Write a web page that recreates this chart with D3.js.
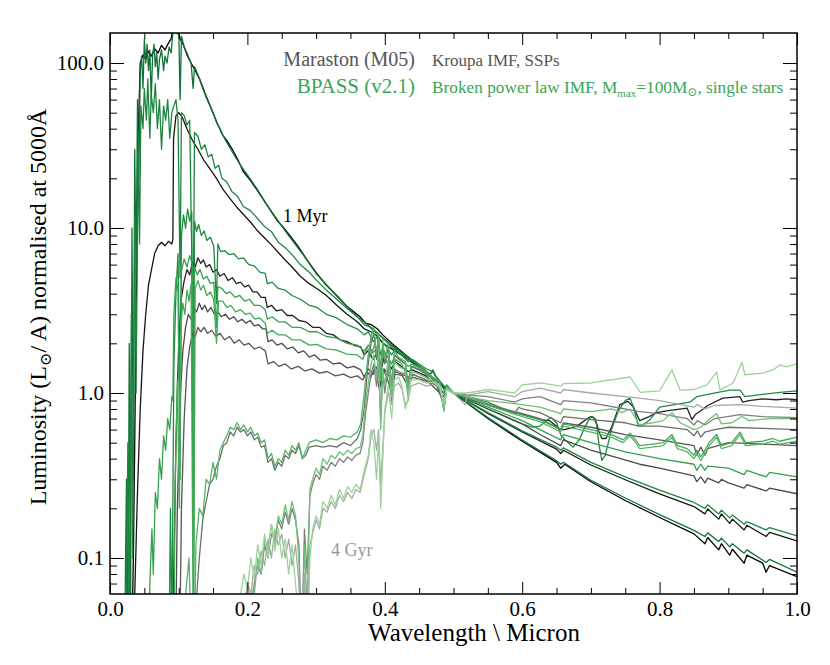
<!DOCTYPE html>
<html><head><meta charset="utf-8">
<script src="https://cdn.jsdelivr.net/npm/d3@7"></script>
<style>body{margin:0;background:#fff}svg{display:block}svg text{font-family:"Liberation Serif",Tinos,"Times New Roman",Times,"DejaVu Serif","Noto Serif",serif !important}</style>
</head><body><svg id="c" width="830" height="665"></svg>
<script>
// ---------------- DATA ----------------
const ages = ["1 Myr","3 Myr","10 Myr","30 Myr","100 Myr","500 Myr","1 Gyr","4 Gyr"];
const marastonColors = ["#000000","#151515","#222222","#4a4a4a","#555555","#6e6e6e","#808080","#a8a8a8"];
const bpassColors = ["#127238","#1e8540","#1f8b40","#36a050","#45aa58","#55b565","#6cc276","#9ad597"];
const xDomain = [0, 1.0];
const yDomain = [0.0605, 152];
const xMajorTicks = [0.0, 0.2, 0.4, 0.6, 0.8, 1.0];
const xMinorTicks = [0.05,0.1,0.15,0.25,0.3,0.35,0.45,0.5,0.55,0.65,0.7,0.75,0.85,0.9,0.95];
const yMajorTicks = [0.1, 1, 10, 100];
const yMinorTicks = [0.07,0.08,0.09,0.2,0.3,0.4,0.5,0.6,0.7,0.8,0.9,2,3,4,5,6,7,8,9,20,30,40,50,60,70,80,90];

const maraston1Myr = [[0.030,0.01],[0.034,0.1],[0.036,0.5],[0.038,3],[0.040,15],[0.042,50],[0.044,100],[0.048,112],[0.052,105],[0.056,118],[0.060,110],[0.065,122],[0.070,115],[0.075,128],[0.080,120],[0.085,132],[0.089,140],[0.092,170],[0.098,175],[0.102,140],[0.107,128],[0.112,112],[0.118,100],[0.124,90],[0.131,79],[0.138,66],[0.145,56],[0.150,50],[0.156,43],[0.160,40],[0.164,36.6],[0.170,34],[0.178,30],[0.186,26],[0.194,22],[0.204,19.5],[0.214,17],[0.225,14.5],[0.235,12.5],[0.244,11],[0.252,10.1],[0.262,9],[0.275,7.6],[0.288,6.3],[0.301,5.3],[0.315,4.5],[0.330,3.9],[0.345,3.35],[0.364,2.9],[0.372,2.65],[0.380,2.6],[0.389,2.45],[0.397,2.25],[0.410,2.0],[0.420,1.85],[0.434,1.65],[0.450,1.45],[0.466,1.28],[0.480,1.15],[0.486,1.08],[0.490,1.08],[0.500,1.0],[0.55,0.70],[0.60,0.51],[0.65,0.38],[0.656,0.35],[0.662,0.37],[0.70,0.29],[0.75,0.223],[0.80,0.176],[0.85,0.14],[0.866,0.122],[0.870,0.133],[0.886,0.112],[0.890,0.122],[0.902,0.104],[0.906,0.113],[0.923,0.093],[0.927,0.104],[0.950,0.093],[0.955,0.082],[0.960,0.09],[1.0,0.077]];
const bpass1Myr = [[0.020,0.01],[0.024,0.3],[0.026,0.02],[0.028,2],[0.030,0.05],[0.032,10],[0.034,0.3],[0.036,30],[0.038,5],[0.040,60],[0.042,20],[0.044,90],[0.046,110],[0.048,70],[0.050,140],[0.052,100],[0.054,130],[0.056,90],[0.058,120],[0.060,60],[0.062,110],[0.064,130],[0.066,95],[0.068,115],[0.070,80],[0.072,105],[0.075,120],[0.078,90],[0.080,110],[0.083,100],[0.086,125],[0.089,115],[0.092,160],[0.095,170],[0.098,150],[0.100,165],[0.102,60],[0.104,145],[0.108,125],[0.112,115],[0.118,100],[0.121,70],[0.123,95],[0.128,85],[0.134,72],[0.140,62],[0.148,52],[0.155,44],[0.162,38],[0.170,33],[0.180,28],[0.190,24],[0.200,21],[0.215,17],[0.230,13.5],[0.245,11],[0.260,9],[0.280,7],[0.300,5.3],[0.320,4.3],[0.340,3.5],[0.360,2.9],[0.375,2.6],[0.385,2.35],[0.395,2.2],[0.410,1.95],[0.434,1.65],[0.450,1.45],[0.466,1.3],[0.470,1.38],[0.474,1.27],[0.486,1.1],[0.500,1.0],[0.55,0.709],[0.60,0.518],[0.65,0.388],[0.656,0.37],[0.66,0.38],[0.70,0.296],[0.75,0.231],[0.80,0.183],[0.85,0.147],[0.866,0.135],[0.87,0.142],[0.886,0.126],[0.89,0.132],[0.902,0.117],[0.906,0.122],[0.923,0.107],[0.927,0.112],[0.955,0.094],[0.96,0.098],[1.0,0.082]];

const maraston3Myr = [[0.034,0.01],[0.036,0.06],[0.040,0.25],[0.044,0.8],[0.048,1.8],[0.052,3],[0.056,4.5],[0.060,5.5],[0.065,7],[0.070,7.8],[0.075,8.2],[0.080,7.8],[0.085,8.3],[0.090,8],[0.0915,8.5],[0.0925,35],[0.096,48],[0.100,50],[0.105,47],[0.112,40],[0.120,34],[0.128,30],[0.136,26],[0.145,23],[0.155,20],[0.165,17],[0.175,15],[0.185,13.3],[0.195,12],[0.205,10.8],[0.214,9.7],[0.225,8.7],[0.235,7.9],[0.245,7.1],[0.255,6.4],[0.265,5.8],[0.277,5.1],[0.290,4.6],[0.301,4.3],[0.315,3.9],[0.330,3.4],[0.345,3.0],[0.360,2.7],[0.370,2.45],[0.380,2.35],[0.390,2.2],[0.397,2.0],[0.41,1.85],[0.434,1.6],[0.45,1.42],[0.466,1.27],[0.486,1.1],[0.5,1.0],[0.55,0.753],[0.60,0.58],[0.65,0.457],[0.656,0.43],[0.66,0.45],[0.70,0.366],[0.75,0.298],[0.80,0.245],[0.85,0.205],[0.866,0.185],[0.87,0.198],[0.886,0.172],[0.89,0.185],[0.902,0.162],[0.906,0.172],[0.923,0.148],[0.927,0.158],[0.955,0.135],[0.96,0.143],[1.0,0.127]];
const bpass3Myr = [[0.022,0.01],[0.026,0.5],[0.028,0.03],[0.031,3],[0.033,0.1],[0.036,12],[0.038,1],[0.041,30],[0.043,8],[0.045,55],[0.048,40],[0.050,70],[0.053,45],[0.055,80],[0.058,35],[0.060,65],[0.063,50],[0.066,75],[0.069,40],[0.072,60],[0.075,30],[0.078,55],[0.081,45],[0.084,60],[0.087,35],[0.090,50],[0.093,55],[0.096,60],[0.099,45],[0.102,5],[0.104,50],[0.108,48],[0.112,42],[0.116,45],[0.121,2],[0.123,38],[0.128,36],[0.133,30],[0.138,32],[0.143,27],[0.148,28],[0.153,23],[0.158,24],[0.163,20],[0.170,19],[0.178,16.5],[0.186,15.5],[0.194,13.5],[0.204,12.8],[0.214,11.5],[0.225,10.2],[0.235,9.5],[0.245,8.2],[0.255,7.6],[0.265,6.9],[0.277,6.0],[0.290,5.4],[0.301,4.8],[0.315,4.2],[0.330,3.7],[0.345,3.25],[0.360,2.9],[0.370,2.6],[0.380,2.5],[0.390,2.3],[0.397,2.15],[0.41,1.9],[0.434,1.62],[0.45,1.45],[0.466,1.3],[0.470,1.35],[0.474,1.26],[0.486,1.1],[0.5,1.0],[0.55,0.76],[0.60,0.59],[0.65,0.47],[0.656,0.45],[0.66,0.465],[0.70,0.38],[0.75,0.31],[0.80,0.258],[0.85,0.217],[0.866,0.2],[0.87,0.21],[0.886,0.185],[0.89,0.195],[0.902,0.175],[0.906,0.182],[0.923,0.16],[0.927,0.166],[0.955,0.148],[0.96,0.153],[1.0,0.136]];

const maraston10Myr = [[0.088,0.01],[0.092,0.05],[0.096,0.5],[0.100,2],[0.104,3.8],[0.108,4.8],[0.112,5.6],[0.116,5.2],[0.120,6.2],[0.124,5.8],[0.128,6.6],[0.132,6.1],[0.136,6.4],[0.140,5.8],[0.145,6.0],[0.150,5.4],[0.155,5.6],[0.160,5.1],[0.166,5.3],[0.172,4.8],[0.178,5.0],[0.184,4.6],[0.190,4.7],[0.196,4.4],[0.202,4.5],[0.208,4.1],[0.214,4.1],[0.220,3.8],[0.226,3.8],[0.229,3.3],[0.235,3.4],[0.242,3.15],[0.250,3.2],[0.258,2.95],[0.266,2.95],[0.275,2.75],[0.285,2.7],[0.295,2.5],[0.305,2.5],[0.315,2.3],[0.325,2.25],[0.335,2.1],[0.345,2.05],[0.355,1.95],[0.365,1.9],[0.370,1.7],[0.375,1.8],[0.383,1.6],[0.389,1.75],[0.394,1.35],[0.399,1.65],[0.41,1.4],[0.415,1.55],[0.434,1.35],[0.44,1.38],[0.46,1.27],[0.486,1.0],[0.49,1.08],[0.5,1.0],[0.52,0.92],[0.55,0.85],[0.58,0.78],[0.60,0.74],[0.626,0.69],[0.64,0.68],[0.656,0.6],[0.662,0.6],[0.68,0.63],[0.695,0.7],[0.70,0.72],[0.706,0.7],[0.712,0.58],[0.716,0.53],[0.722,0.53],[0.73,0.62],[0.742,0.85],[0.754,0.89],[0.762,0.82],[0.771,0.68],[0.785,0.72],[0.796,0.76],[0.81,0.78],[0.84,0.81],[0.847,0.69],[0.852,0.74],[0.86,0.78],[0.87,0.84],[0.892,0.93],[0.917,0.95],[0.921,0.88],[0.93,0.9],[0.95,0.92],[0.97,0.91],[0.985,0.92],[1.0,0.91]];
const bpass10Myr = [[0.085,0.01],[0.088,0.2],[0.090,0.03],[0.093,1.5],[0.096,4],[0.099,7],[0.102,0.8],[0.104,9],[0.107,12],[0.110,10],[0.113,13],[0.116,11],[0.119,12.5],[0.121,0.1],[0.123,11],[0.126,9.5],[0.129,10.5],[0.133,9],[0.137,9.6],[0.141,8.4],[0.146,8.8],[0.151,7.8],[0.155,3.5],[0.157,8.0],[0.161,7.2],[0.167,7.3],[0.173,6.9],[0.180,7.0],[0.187,6.5],[0.194,6.6],[0.202,6.0],[0.210,5.9],[0.218,5.4],[0.226,5.3],[0.229,4.6],[0.236,4.7],[0.245,4.3],[0.255,4.2],[0.265,3.9],[0.277,3.7],[0.290,3.4],[0.301,3.3],[0.315,3.0],[0.330,2.85],[0.345,2.6],[0.360,2.45],[0.370,2.25],[0.376,2.35],[0.383,2.05],[0.389,2.2],[0.394,1.7],[0.399,2.0],[0.41,1.7],[0.415,1.85],[0.434,1.55],[0.44,1.6],[0.46,1.4],[0.47,1.35],[0.486,1.05],[0.49,1.12],[0.5,1.0],[0.55,0.8],[0.6,0.65],[0.615,0.62],[0.626,0.63],[0.635,0.68],[0.642,0.71],[0.65,0.66],[0.656,0.56],[0.662,0.52],[0.674,0.47],[0.683,0.52],[0.692,0.63],[0.698,0.7],[0.703,0.72],[0.708,0.65],[0.712,0.48],[0.716,0.39],[0.721,0.42],[0.73,0.6],[0.74,0.78],[0.75,0.9],[0.757,0.93],[0.762,0.82],[0.769,0.63],[0.776,0.64],[0.786,0.69],[0.8,0.82],[0.844,0.88],[0.854,0.95],[0.87,0.98],[0.902,1.04],[0.917,1.04],[0.924,0.95],[0.95,0.98],[0.975,1.01],[1.0,1.03]];

const maraston30Myr = [[0.094,0.01],[0.098,0.2],[0.102,0.9],[0.106,1.8],[0.110,2.5],[0.114,3.0],[0.118,2.8],[0.122,3.3],[0.126,3.1],[0.130,3.5],[0.134,3.2],[0.138,3.4],[0.142,3.1],[0.147,3.3],[0.152,3.0],[0.157,3.1],[0.162,2.9],[0.168,3.0],[0.174,2.8],[0.180,2.9],[0.186,2.7],[0.192,2.8],[0.198,2.65],[0.204,2.75],[0.210,2.55],[0.216,2.6],[0.222,2.45],[0.227,2.45],[0.230,2.05],[0.236,2.1],[0.243,1.95],[0.250,2.0],[0.258,1.85],[0.266,1.9],[0.274,1.75],[0.282,1.8],[0.290,1.65],[0.298,1.7],[0.306,1.58],[0.315,1.6],[0.325,1.5],[0.335,1.52],[0.345,1.42],[0.355,1.45],[0.365,1.38],[0.370,1.25],[0.376,1.4],[0.383,1.3],[0.389,1.45],[0.394,1.1],[0.399,1.4],[0.41,1.2],[0.415,1.35],[0.434,1.25],[0.44,1.3],[0.46,1.2],[0.486,0.95],[0.49,1.06],[0.5,1.0],[0.55,0.8],[0.6,0.65],[0.626,0.56],[0.656,0.48],[0.66,0.52],[0.7,0.45],[0.771,0.37],[0.8,0.35],[0.85,0.315],[0.854,0.29],[0.86,0.31],[0.866,0.285],[0.87,0.305],[0.886,0.285],[0.89,0.3],[0.9,0.285],[0.923,0.265],[0.927,0.278],[0.955,0.255],[0.96,0.265],[1.0,0.245]];
const bpass30Myr = [[0.055,0.01],[0.058,0.07],[0.061,0.15],[0.063,0.08],[0.066,0.25],[0.069,0.2],[0.072,0.4],[0.075,0.3],[0.078,0.55],[0.081,0.45],[0.084,0.7],[0.087,0.6],[0.090,0.95],[0.0915,0.9],[0.093,3],[0.096,5],[0.099,4.2],[0.102,0.3],[0.104,5.5],[0.108,6.5],[0.112,5.8],[0.116,6.8],[0.120,6],[0.1215,0.05],[0.123,5.8],[0.127,5.2],[0.131,5.6],[0.136,4.9],[0.141,5.1],[0.146,4.6],[0.151,4.7],[0.155,2.5],[0.157,4.4],[0.163,4.3],[0.169,4.0],[0.175,4.1],[0.182,3.8],[0.189,3.9],[0.196,3.6],[0.203,3.7],[0.210,3.4],[0.218,3.4],[0.226,3.2],[0.229,2.8],[0.236,2.9],[0.245,2.7],[0.255,2.7],[0.265,2.5],[0.277,2.5],[0.29,2.35],[0.301,2.35],[0.315,2.2],[0.33,2.15],[0.345,2.0],[0.36,1.95],[0.37,1.8],[0.376,1.95],[0.383,1.75],[0.389,1.9],[0.394,1.4],[0.399,1.8],[0.41,1.5],[0.415,1.7],[0.434,1.45],[0.44,1.5],[0.46,1.35],[0.486,1.0],[0.49,1.1],[0.5,1.0],[0.55,0.82],[0.6,0.68],[0.626,0.6],[0.656,0.52],[0.66,0.56],[0.7,0.5],[0.75,0.44],[0.8,0.4],[0.85,0.37],[0.854,0.34],[0.86,0.37],[0.866,0.34],[0.87,0.36],[0.9,0.35],[0.923,0.32],[0.927,0.34],[0.955,0.31],[0.96,0.33],[1.0,0.31]];

const maraston100Myr = [[0.100,0.01],[0.104,0.2],[0.108,0.7],[0.112,1.4],[0.116,1.9],[0.120,2.3],[0.124,2.2],[0.128,2.5],[0.132,2.35],[0.137,2.5],[0.142,2.3],[0.148,2.4],[0.154,2.2],[0.160,2.3],[0.167,2.1],[0.174,2.2],[0.181,2.0],[0.188,2.1],[0.195,1.95],[0.202,2.0],[0.210,1.85],[0.218,1.9],[0.226,1.8],[0.230,1.5],[0.238,1.55],[0.246,1.45],[0.255,1.5],[0.264,1.4],[0.274,1.45],[0.284,1.36],[0.294,1.4],[0.305,1.32],[0.316,1.35],[0.328,1.27],[0.34,1.3],[0.35,1.24],[0.36,1.27],[0.368,1.2],[0.374,1.35],[0.38,1.25],[0.386,1.45],[0.392,1.05],[0.397,1.4],[0.403,1.25],[0.41,1.0],[0.415,1.3],[0.425,1.28],[0.434,1.1],[0.44,1.25],[0.46,1.18],[0.475,1.12],[0.486,0.85],[0.49,1.05],[0.5,1.0],[0.55,0.85],[0.6,0.75],[0.626,0.7],[0.656,0.6],[0.66,0.66],[0.7,0.62],[0.75,0.56],[0.8,0.52],[0.85,0.48],[0.854,0.42],[0.86,0.47],[0.866,0.42],[0.87,0.46],[0.9,0.5],[0.95,0.49],[1.0,0.48]];
const bpass100Myr = [[0.092,0.01],[0.095,0.3],[0.098,1.2],[0.101,0.2],[0.103,2.5],[0.106,3.5],[0.109,3.0],[0.112,4.2],[0.115,3.6],[0.118,4.6],[0.1215,0.02],[0.124,4.3],[0.128,4.8],[0.132,4.2],[0.136,4.5],[0.141,3.9],[0.146,4.1],[0.151,3.7],[0.155,2.0],[0.158,3.6],[0.164,3.6],[0.170,3.3],[0.176,3.4],[0.183,3.1],[0.190,3.2],[0.197,3.0],[0.204,3.05],[0.211,2.8],[0.218,2.85],[0.226,2.65],[0.229,2.3],[0.236,2.4],[0.245,2.25],[0.255,2.25],[0.265,2.1],[0.277,2.1],[0.29,1.95],[0.301,1.97],[0.315,1.85],[0.33,1.82],[0.345,1.72],[0.36,1.7],[0.368,1.6],[0.374,1.9],[0.38,1.7],[0.386,2.0],[0.392,1.3],[0.397,1.85],[0.403,1.55],[0.41,1.2],[0.415,1.6],[0.425,1.5],[0.434,1.2],[0.44,1.45],[0.46,1.32],[0.475,1.2],[0.486,0.85],[0.49,1.08],[0.5,1.0],[0.55,0.86],[0.6,0.74],[0.626,0.69],[0.656,0.6],[0.66,0.65],[0.7,0.6],[0.73,0.56],[0.747,0.52],[0.757,0.57],[0.765,0.52],[0.771,0.48],[0.79,0.49],[0.805,0.5],[0.818,0.56],[0.826,0.48],[0.84,0.46],[0.85,0.42],[0.854,0.45],[0.86,0.41],[0.866,0.45],[0.872,0.5],[0.883,0.56],[0.89,0.48],[0.905,0.5],[0.917,0.58],[0.925,0.5],[0.95,0.51],[0.965,0.53],[0.975,0.51],[1.0,0.54]];

const maraston500Myr = [[0.120,0.01],[0.125,0.05],[0.130,0.1],[0.135,0.17],[0.140,0.22],[0.145,0.28],[0.150,0.3],[0.155,0.36],[0.160,0.4],[0.165,0.48],[0.170,0.5],[0.175,0.58],[0.180,0.55],[0.185,0.62],[0.190,0.58],[0.195,0.6],[0.200,0.55],[0.205,0.58],[0.210,0.52],[0.215,0.54],[0.220,0.47],[0.225,0.48],[0.230,0.38],[0.235,0.4],[0.240,0.34],[0.245,0.38],[0.250,0.36],[0.255,0.42],[0.260,0.4],[0.265,0.45],[0.270,0.43],[0.275,0.48],[0.280,0.4],[0.285,0.42],[0.290,0.47],[0.300,0.48],[0.310,0.47],[0.320,0.48],[0.330,0.47],[0.340,0.5],[0.350,0.48],[0.360,0.53],[0.365,0.6],[0.370,0.8],[0.375,1.4],[0.380,2.0],[0.384,2.3],[0.388,1.6],[0.391,2.2],[0.394,1.2],[0.397,2.0],[0.400,1.5],[0.405,1.9],[0.410,1.1],[0.414,1.7],[0.420,1.6],[0.430,1.5],[0.434,1.1],[0.438,1.45],[0.45,1.38],[0.46,1.3],[0.47,1.22],[0.48,1.15],[0.486,0.8],[0.49,1.08],[0.5,1.0],[0.52,0.95],[0.55,0.88],[0.589,0.75],[0.595,0.82],[0.6,0.8],[0.626,0.76],[0.656,0.66],[0.66,0.72],[0.7,0.69],[0.75,0.66],[0.77,0.63],[0.8,0.63],[0.84,0.6],[0.85,0.55],[0.855,0.59],[0.86,0.54],[0.866,0.58],[0.88,0.6],[0.9,0.62],[0.95,0.61],[1.0,0.6]];
const bpass500Myr = [[0.105,0.01],[0.110,0.06],[0.115,0.1],[0.1215,0.01],[0.125,0.12],[0.130,0.2],[0.135,0.18],[0.140,0.3],[0.145,0.28],[0.150,0.38],[0.155,0.3],[0.160,0.45],[0.165,0.5],[0.170,0.55],[0.175,0.62],[0.180,0.6],[0.185,0.66],[0.190,0.6],[0.195,0.64],[0.200,0.58],[0.205,0.62],[0.210,0.55],[0.215,0.57],[0.220,0.5],[0.225,0.52],[0.230,0.4],[0.235,0.43],[0.240,0.36],[0.245,0.4],[0.250,0.38],[0.255,0.45],[0.260,0.42],[0.265,0.48],[0.270,0.45],[0.275,0.5],[0.280,0.4],[0.285,0.45],[0.290,0.5],[0.300,0.52],[0.310,0.5],[0.320,0.53],[0.330,0.52],[0.340,0.55],[0.350,0.54],[0.360,0.58],[0.365,0.65],[0.370,1.0],[0.375,1.6],[0.380,2.2],[0.384,2.5],[0.388,1.7],[0.391,2.3],[0.394,1.2],[0.397,2.1],[0.400,1.6],[0.405,2.0],[0.410,1.1],[0.414,1.8],[0.420,1.65],[0.430,1.55],[0.434,1.05],[0.438,1.5],[0.45,1.42],[0.46,1.33],[0.47,1.25],[0.48,1.17],[0.486,0.78],[0.49,1.1],[0.5,1.0],[0.52,0.95],[0.55,0.84],[0.6,0.72],[0.626,0.67],[0.656,0.58],[0.66,0.63],[0.7,0.58],[0.73,0.54],[0.747,0.5],[0.757,0.55],[0.765,0.5],[0.771,0.46],[0.79,0.47],[0.805,0.48],[0.818,0.54],[0.826,0.46],[0.84,0.44],[0.85,0.4],[0.854,0.43],[0.86,0.39],[0.866,0.43],[0.872,0.48],[0.883,0.54],[0.89,0.46],[0.905,0.48],[0.917,0.56],[0.925,0.48],[0.95,0.49],[0.965,0.51],[0.975,0.49],[1.0,0.51]];

const maraston1Gyr = [[0.200,0.01],[0.205,0.05],[0.210,0.07],[0.215,0.09],[0.220,0.08],[0.225,0.12],[0.230,0.1],[0.235,0.14],[0.240,0.13],[0.245,0.17],[0.250,0.15],[0.255,0.19],[0.260,0.16],[0.265,0.2],[0.270,0.17],[0.275,0.12],[0.279,0.03],[0.283,0.15],[0.287,0.08],[0.291,0.24],[0.295,0.28],[0.300,0.32],[0.305,0.3],[0.310,0.36],[0.316,0.34],[0.322,0.38],[0.328,0.36],[0.334,0.4],[0.340,0.38],[0.346,0.41],[0.352,0.39],[0.358,0.42],[0.364,0.43],[0.368,0.5],[0.372,0.75],[0.376,1.0],[0.380,1.3],[0.384,1.5],[0.388,1.1],[0.391,1.55],[0.394,0.7],[0.397,1.3],[0.400,1.0],[0.405,1.45],[0.410,0.9],[0.414,1.4],[0.420,1.35],[0.430,1.3],[0.434,0.95],[0.438,1.3],[0.45,1.25],[0.46,1.2],[0.47,1.15],[0.48,1.1],[0.486,0.8],[0.49,1.05],[0.5,1.0],[0.52,0.97],[0.55,0.95],[0.589,0.88],[0.6,0.92],[0.626,0.95],[0.656,0.85],[0.66,0.9],[0.7,0.87],[0.75,0.8],[0.771,0.77],[0.8,0.75],[0.84,0.7],[0.85,0.64],[0.855,0.68],[0.866,0.64],[0.88,0.7],[0.917,0.74],[0.95,0.72],[1.0,0.71]];
const bpass1Gyr = [[0.205,0.01],[0.210,0.06],[0.215,0.1],[0.220,0.08],[0.225,0.13],[0.230,0.11],[0.235,0.16],[0.240,0.12],[0.245,0.18],[0.250,0.16],[0.255,0.21],[0.260,0.17],[0.265,0.22],[0.270,0.18],[0.275,0.1],[0.279,0.02],[0.283,0.12],[0.287,0.05],[0.291,0.26],[0.295,0.3],[0.300,0.35],[0.305,0.32],[0.310,0.4],[0.316,0.37],[0.322,0.42],[0.328,0.4],[0.334,0.44],[0.340,0.42],[0.346,0.45],[0.352,0.43],[0.358,0.46],[0.364,0.47],[0.368,0.55],[0.372,0.85],[0.376,1.15],[0.380,1.5],[0.384,1.7],[0.388,1.2],[0.391,1.75],[0.394,0.6],[0.397,1.4],[0.400,1.1],[0.405,1.6],[0.410,0.95],[0.414,1.55],[0.420,1.45],[0.430,1.38],[0.434,0.95],[0.438,1.35],[0.45,1.3],[0.46,1.24],[0.47,1.18],[0.48,1.12],[0.486,0.78],[0.49,1.06],[0.5,1.0],[0.52,0.95],[0.55,0.9],[0.6,0.85],[0.626,0.82],[0.656,0.75],[0.66,0.8],[0.7,0.77],[0.73,0.8],[0.745,0.76],[0.757,0.8],[0.771,0.64],[0.79,0.66],[0.805,0.68],[0.818,0.76],[0.83,0.66],[0.85,0.6],[0.86,0.62],[0.87,0.68],[0.883,0.75],[0.89,0.65],[0.905,0.66],[0.92,0.72],[0.93,0.68],[0.96,0.7],[1.0,0.7]];

const maraston4Gyr = [[0.190,0.01],[0.195,0.05],[0.200,0.07],[0.205,0.06],[0.210,0.09],[0.215,0.08],[0.220,0.11],[0.225,0.09],[0.230,0.13],[0.235,0.1],[0.240,0.15],[0.245,0.12],[0.250,0.14],[0.255,0.1],[0.260,0.13],[0.265,0.09],[0.270,0.12],[0.275,0.07],[0.279,0.02],[0.283,0.08],[0.287,0.04],[0.291,0.12],[0.295,0.14],[0.300,0.17],[0.305,0.15],[0.310,0.2],[0.316,0.19],[0.322,0.22],[0.328,0.2],[0.334,0.24],[0.340,0.22],[0.346,0.25],[0.352,0.23],[0.358,0.26],[0.364,0.25],[0.370,0.32],[0.376,0.4],[0.380,0.55],[0.384,0.6],[0.388,0.45],[0.391,0.6],[0.394,0.28],[0.397,0.45],[0.400,0.75],[0.405,1.0],[0.410,0.85],[0.414,1.1],[0.420,1.15],[0.425,1.05],[0.430,0.85],[0.434,0.9],[0.438,1.1],[0.45,1.15],[0.46,1.1],[0.47,1.12],[0.48,1.08],[0.486,0.9],[0.49,1.05],[0.5,1.0],[0.517,0.85],[0.52,0.97],[0.55,1.02],[0.589,0.95],[0.6,1.02],[0.626,1.07],[0.656,1.0],[0.66,1.05],[0.7,1.0],[0.77,0.93],[0.8,0.9],[0.85,0.82],[0.855,0.85],[0.866,0.8],[0.88,0.84],[0.917,0.85],[0.95,0.83],[1.0,0.81]];
const bpass4Gyr = [[0.185,0.01],[0.190,0.06],[0.195,0.08],[0.200,0.065],[0.205,0.1],[0.210,0.075],[0.215,0.12],[0.220,0.09],[0.225,0.14],[0.230,0.1],[0.235,0.16],[0.240,0.11],[0.245,0.15],[0.250,0.1],[0.255,0.13],[0.260,0.08],[0.265,0.12],[0.270,0.07],[0.275,0.04],[0.279,0.01],[0.283,0.06],[0.287,0.02],[0.291,0.1],[0.295,0.15],[0.300,0.18],[0.305,0.16],[0.310,0.22],[0.316,0.2],[0.322,0.24],[0.328,0.21],[0.334,0.26],[0.340,0.23],[0.346,0.27],[0.352,0.25],[0.358,0.28],[0.364,0.26],[0.370,0.34],[0.376,0.42],[0.380,0.6],[0.384,0.5],[0.388,0.3],[0.391,0.55],[0.394,0.2],[0.397,0.4],[0.400,0.8],[0.405,1.1],[0.410,0.7],[0.414,1.2],[0.420,1.25],[0.425,1.1],[0.430,0.8],[0.434,0.95],[0.438,1.2],[0.45,1.2],[0.46,1.15],[0.47,1.16],[0.48,1.1],[0.486,0.85],[0.49,1.06],[0.5,1.0],[0.52,1.0],[0.55,1.05],[0.589,1.0],[0.6,1.12],[0.626,1.15],[0.656,1.1],[0.66,1.14],[0.7,1.15],[0.757,1.25],[0.772,1.01],[0.8,1.03],[0.818,1.38],[0.83,1.04],[0.85,1.05],[0.869,1.12],[0.883,1.34],[0.888,1.04],[0.907,1.15],[0.92,1.54],[0.924,1.29],[0.95,1.32],[0.965,1.38],[0.975,1.48],[0.985,1.44],[1.0,1.5]];

const marastonSeries = [maraston1Myr, maraston3Myr, maraston10Myr, maraston30Myr, maraston100Myr, maraston500Myr, maraston1Gyr, maraston4Gyr];
const bpassSeries = [bpass1Myr, bpass3Myr, bpass10Myr, bpass30Myr, bpass100Myr, bpass500Myr, bpass1Gyr, bpass4Gyr];

// ---------------- CHART ----------------
const L = 110, R = 797, T = 33, B = 594;
const FONT = 'Liberation Serif, Tinos, Times New Roman, Times, DejaVu Serif, Noto Serif, serif';
const svg = d3.select("#c");
const x = d3.scaleLinear().domain(xDomain).range([L, R]);
const y = d3.scaleLog().domain(yDomain).range([B, T]);

svg.append("defs").append("clipPath").attr("id", "clip")
  .append("rect").attr("x", L).attr("y", T).attr("width", R - L).attr("height", B - T);

const line = d3.line().x(d => x(d[0])).y(d => y(Math.max(d[1], 0.005)));
const plot = svg.append("g").attr("clip-path", "url(#clip)");
ages.forEach((a, i) => {
  plot.append("path").datum(marastonSeries[i]).attr("d", line)
    .attr("fill", "none").attr("stroke", marastonColors[i]).attr("stroke-width", 1.3).attr("stroke-linejoin", "round");
  plot.append("path").datum(bpassSeries[i]).attr("d", line)
    .attr("fill", "none").attr("stroke", bpassColors[i]).attr("stroke-width", 1.3).attr("stroke-linejoin", "round");
});

function styleAxis(g) {
  g.select(".domain").remove();
  g.selectAll("line").attr("stroke", "#000").attr("stroke-width", 1);
  g.selectAll("text").style("font-family", FONT).attr("font-size", 21).attr("fill", "#000");
}
svg.append("g").attr("transform", `translate(0,${B})`)
  .call(d3.axisBottom(x).tickValues(xMajorTicks).tickFormat(d3.format(".1f")).tickSizeInner(-12).tickSizeOuter(0).tickPadding(7)).call(styleAxis);
svg.append("g").attr("transform", `translate(0,${B})`)
  .call(d3.axisBottom(x).tickValues(xMinorTicks).tickFormat("").tickSizeInner(-6).tickSizeOuter(0)).call(styleAxis);
svg.append("g").attr("transform", `translate(0,${T})`)
  .call(d3.axisTop(x).tickValues(xMajorTicks).tickFormat("").tickSizeInner(-12).tickSizeOuter(0)).call(styleAxis);
svg.append("g").attr("transform", `translate(0,${T})`)
  .call(d3.axisTop(x).tickValues(xMinorTicks).tickFormat("").tickSizeInner(-6).tickSizeOuter(0)).call(styleAxis);
svg.append("g").attr("transform", `translate(${L},0)`)
  .call(d3.axisLeft(y).tickValues(yMajorTicks).tickFormat(d3.format(".1f")).tickSizeInner(-14).tickSizeOuter(0).tickPadding(6)).call(styleAxis);
svg.append("g").attr("transform", `translate(${L},0)`)
  .call(d3.axisLeft(y).tickValues(yMinorTicks).tickFormat("").tickSizeInner(-7).tickSizeOuter(0)).call(styleAxis);
svg.append("g").attr("transform", `translate(${R},0)`)
  .call(d3.axisRight(y).tickValues(yMajorTicks).tickFormat("").tickSizeInner(-14).tickSizeOuter(0)).call(styleAxis);
svg.append("g").attr("transform", `translate(${R},0)`)
  .call(d3.axisRight(y).tickValues(yMinorTicks).tickFormat("").tickSizeInner(-7).tickSizeOuter(0)).call(styleAxis);

svg.append("rect").attr("x", L).attr("y", T).attr("width", R - L).attr("height", B - T)
  .attr("fill", "none").attr("stroke", "#000").attr("stroke-width", 1.5);

function txt(sel) { return sel.style("font-family", FONT); }
txt(svg.append("text")).attr("x", 474).attr("y", 641).attr("text-anchor", "middle")
  .attr("font-size", 25).text("Wavelength \\ Micron");
const yl = txt(svg.append("text")).attr("transform", "translate(46,307) rotate(-90)").attr("text-anchor", "middle")
  .attr("font-size", 24);
yl.append("tspan").text("Luminosity (L");
yl.append("tspan").attr("font-size", 16).attr("dy", 5).text("\u2299");
yl.append("tspan").attr("dy", -5).text("/ A) normalised at 5000\u00C5");

const grayTxt = "#555555", greenTxt = "#3aa655";
txt(svg.append("text")).attr("x", 415).attr("y", 66).attr("text-anchor", "end")
  .attr("font-size", 20).attr("fill", grayTxt).text("Maraston (M05)");
txt(svg.append("text")).attr("x", 432).attr("y", 66)
  .attr("font-size", 17).attr("fill", grayTxt).text("Kroupa IMF, SSPs");
txt(svg.append("text")).attr("x", 415).attr("y", 93).attr("text-anchor", "end")
  .attr("font-size", 21).attr("fill", greenTxt).text("BPASS (v2.1)");
const bl = txt(svg.append("text")).attr("x", 432).attr("y", 93)
  .attr("font-size", 17.3).attr("fill", greenTxt);
bl.append("tspan").text("Broken power law IMF, M");
bl.append("tspan").attr("font-size", 11).attr("dy", 4).text("max");
bl.append("tspan").attr("dy", -4).text("=100M");
bl.append("tspan").attr("font-size", 12).attr("dy", 3).text("\u2299");
bl.append("tspan").attr("dy", -3).text(", single stars");

txt(svg.append("text")).attr("x", 283).attr("y", 222).attr("font-size", 18)
  .attr("fill", "#000").text(ages[0]);
txt(svg.append("text")).attr("x", 331).attr("y", 556).attr("font-size", 18)
  .attr("fill", "#999999").text(ages[7]);
</script></body></html>
